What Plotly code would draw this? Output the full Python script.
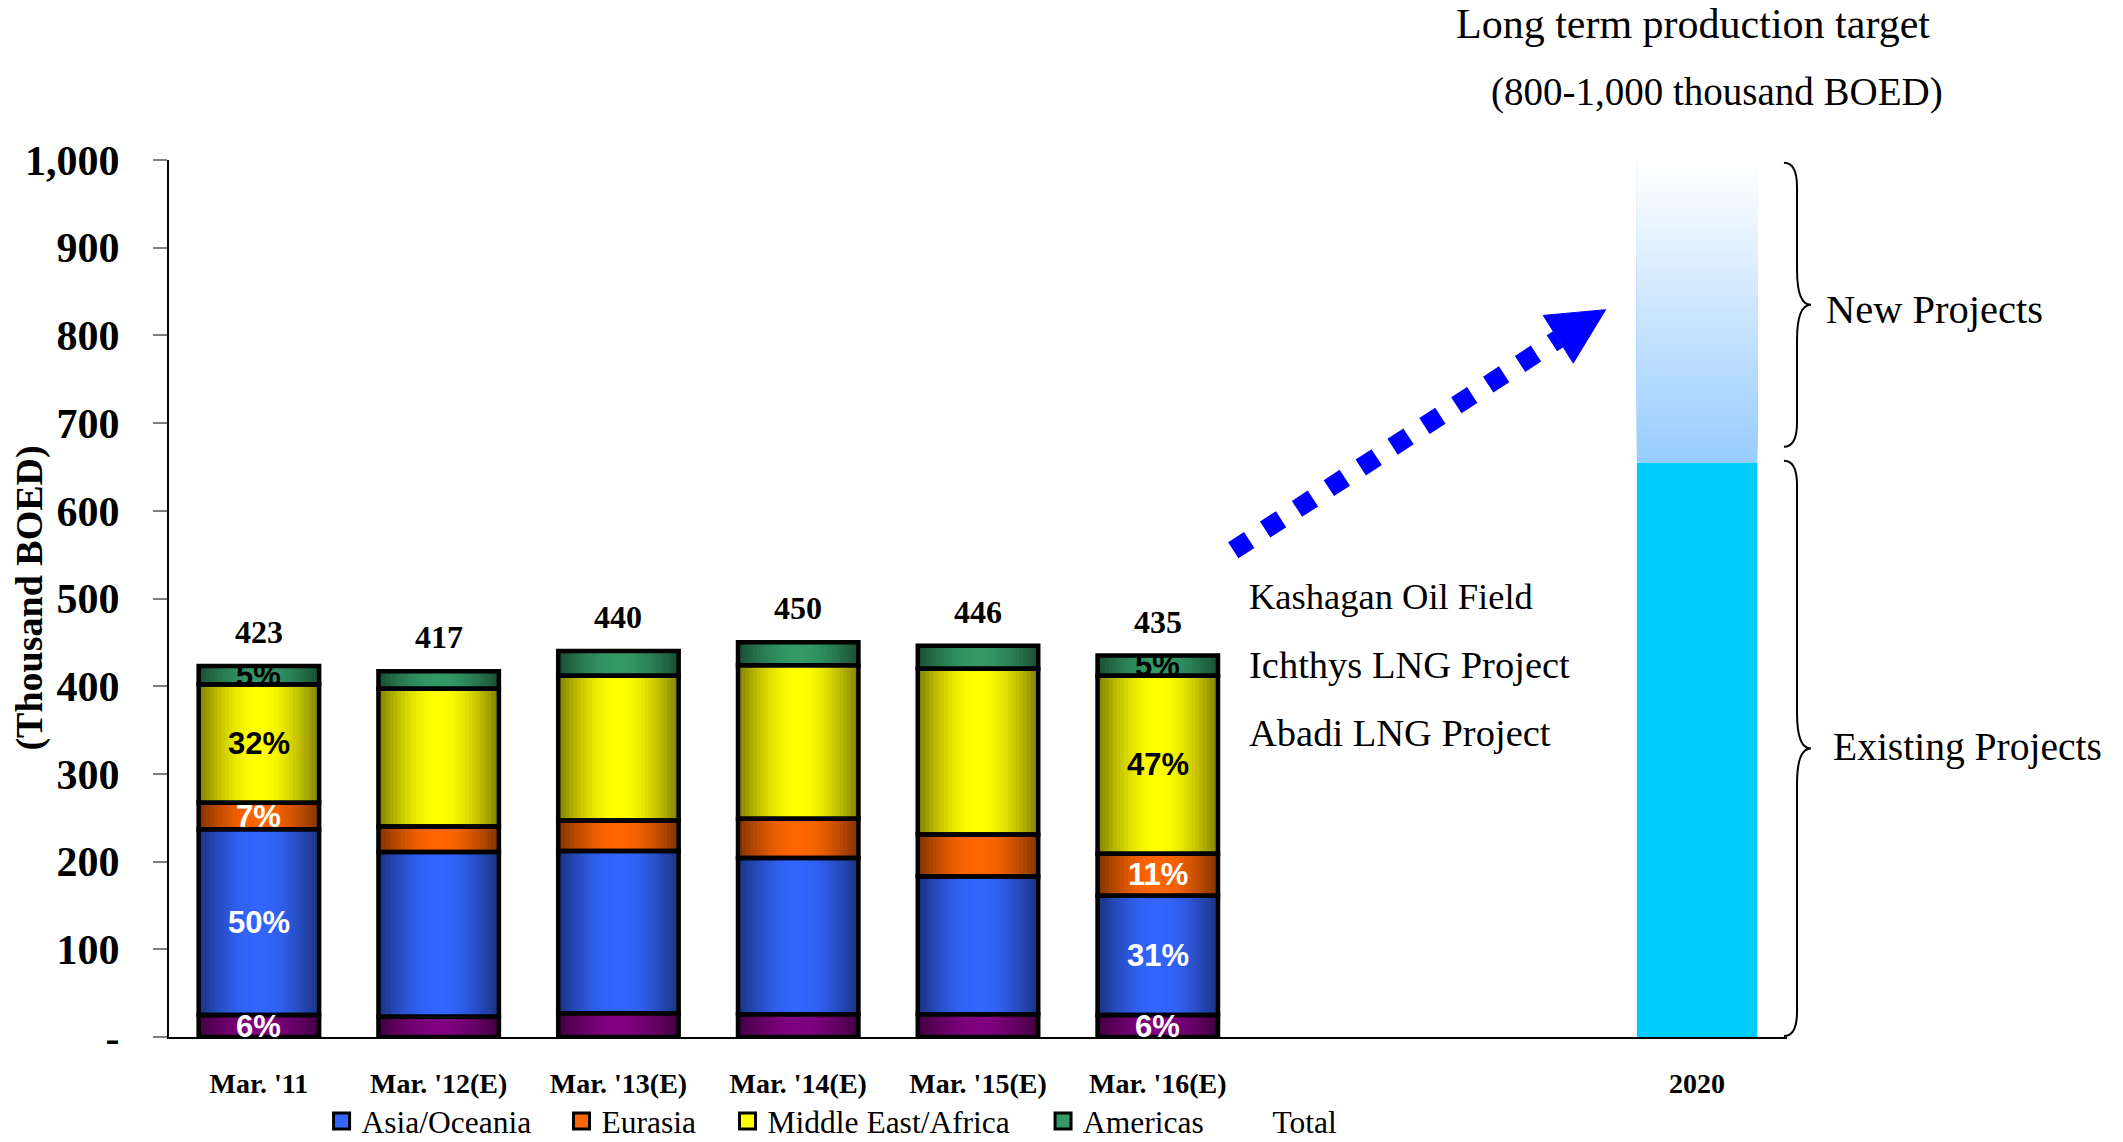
import math
import plotly.graph_objects as go

# ---- data (thousand BOED) ----
periods = ["Mar. '11", "Mar. '12(E)", "Mar. '13(E)", "Mar. '14(E)", "Mar. '15(E)", "Mar. '16(E)"]
spacer_labels = [" ", "  "]
target_label = "2020"

japan = [25, 23, 27, 26, 26, 25]
asia_oceania = [212, 188, 185, 178, 157, 136]
eurasia = [30, 29, 35, 45, 48, 48]
middle_east_africa = [135, 157, 165, 175, 189, 203]
americas = [21, 20, 28, 26, 26, 23]

share_label_periods = ["Mar. '11", "Mar. '16(E)"]

existing_2020 = 655
target_2020_high = 1000

y_tick_values = [0, 100, 200, 300, 400, 500, 600, 700, 800, 900, 1000]
y_tick_text = ["-", "100", "200", "300", "400", "500", "600", "700", "800", "900", "1,000"]

# ---- styling ----
SERIF = "Liberation Serif"
SANS = "Liberation Sans"
BAR_W = 0.67
N_LAYERS = 16
Y_MAX = 1000

series = [
    # name, values, face colour, share-label colour, legend slot (paper x) or None
    ("Japan", japan, "#800080", "white", None),
    ("Asia/Oceania", asia_oceania, "#3366FF", "white", 0.0943),
    ("Eurasia", eurasia, "#FF6600", "white", 0.2426),
    ("Middle East/Africa", middle_east_africa, "#FFFF00", "black", 0.3452),
    ("Americas", americas, "#339966", "black", 0.5402),
]
total_legend_x = 0.6573
legend_y = -0.0958


def hex_rgb(h):
    return int(h[1:3], 16), int(h[3:5], 16), int(h[5:7], 16)


def shade(h, factor):
    r, g, b = hex_rgb(h)
    return f"rgb({round(r * factor)},{round(g * factor)},{round(b * factor)})"


def mix(h1, h2, t):
    a, b = hex_rgb(h1), hex_rgb(h2)
    return "rgb({},{},{})".format(*[round(a[i] + (b[i] - a[i]) * t) for i in range(3)])


totals = [sum(v) for v in zip(*[s[1] for s in series])]

fig = go.Figure()

# cylinder-like shading: nested bars, dark at the edges, bright in the middle
bases = [0] * len(periods)
segment_bases = []
for name, vals, color, _, _ in series:
    segment_bases.append(list(bases))
    for k in range(N_LAYERS):
        t = (k + 0.5) / N_LAYERS
        f = 0.5 + 0.5 * math.sin(t * math.pi / 2)
        fig.add_trace(go.Bar(
            x=periods, y=vals, base=list(bases),
            width=BAR_W * (1 - k / N_LAYERS),
            marker=dict(color=shade(color, f), line=dict(width=0)),
            showlegend=False, hoverinfo="skip",
        ))
    bases = [b + v for b, v in zip(bases, vals)]

# black outlines of each segment
for (name, vals, color, _, _), base in zip(series, segment_bases):
    fig.add_trace(go.Bar(
        x=periods, y=vals, base=base, width=BAR_W,
        marker=dict(color="rgba(0,0,0,0)", line=dict(color="black", width=4.5)),
        name=name, showlegend=False,
        hovertemplate="%{x}<br>" + name + ": %{y}<extra></extra>",
    ))

# 2020 target bar: existing projects + fading new-projects band
fig.add_trace(go.Bar(
    x=[target_label], y=[existing_2020], base=[0], width=BAR_W,
    marker=dict(color="#00CCFF", line=dict(width=0)),
    showlegend=False, hoverinfo="skip",
))
N_FADE = 60
fade_step = (target_2020_high - existing_2020) / N_FADE
fade_bases = [existing_2020 + i * fade_step for i in range(N_FADE)]
fig.add_trace(go.Bar(
    x=[target_label] * N_FADE,
    y=[target_2020_high - b for b in fade_bases],
    base=fade_bases, width=BAR_W,
    marker=dict(color=[mix("#99CCFF", "#FFFFFF", i / (N_FADE - 1)) for i in range(N_FADE)],
                line=dict(width=0)),
    showlegend=False, hoverinfo="skip",
))

# legend entries, each in its own legend box so the spacing can be set
legend_font = dict(family=SERIF, size=31.5, color="black")
legend_boxes = {}
slot = 0
for name, vals, color, _, lx in series:
    if lx is None:
        continue
    slot += 1
    key = "legend" if slot == 1 else f"legend{slot}"
    fig.add_trace(go.Scatter(
        x=[None], y=[None], mode="markers", name=name, legend=key,
        marker=dict(symbol="square", size=16, color=color, line=dict(color="black", width=3)),
    ))
    legend_boxes[key] = dict(x=lx, y=legend_y, xanchor="left", yanchor="middle",
                             orientation="h", font=legend_font, bgcolor="rgba(0,0,0,0)")
slot += 1
key = f"legend{slot}"
fig.add_trace(go.Scatter(
    x=[None], y=[None], mode="markers", name="Total", legend=key,
    marker=dict(symbol="square", size=16, color="rgba(0,0,0,0)"),
))
legend_boxes[key] = dict(x=total_legend_x, y=legend_y, xanchor="left", yanchor="middle",
                         orientation="h", font=legend_font, bgcolor="rgba(0,0,0,0)")

annotations = []

# totals above the bars
for p, tot in zip(periods, totals):
    annotations.append(dict(
        x=p, y=tot, xref="x", yref="y", text=str(tot), showarrow=False,
        yanchor="middle", yshift=34,
        font=dict(family=SERIF, size=32, color="black", weight="bold"),
    ))

# regional shares for the first and last period
for (name, vals, color, txtcol, _), base in zip(series, segment_bases):
    for i, p in enumerate(periods):
        if p in share_label_periods:
            annotations.append(dict(
                x=p, y=base[i] + vals[i] / 2, xref="x", yref="y",
                text=f"{round(100 * vals[i] / totals[i])}%", showarrow=False,
                font=dict(family=SANS, size=31, color=txtcol, weight="bold"),
            ))


def note(text, x, y, size, xanchor="left", **kw):
    return dict(x=x, y=y, xref="paper", yref="paper", text=text, showarrow=False,
                xanchor=xanchor, yanchor="middle",
                font=dict(family=SERIF, size=size, color="black", **kw))


annotations += [
    note("Long term production target", 0.942, 1.155, 42, xanchor="center"),
    note("(800-1,000 thousand BOED)", 0.957, 1.078, 39, xanchor="center"),
    note("Kashagan Oil Field", 0.666, 0.502, 36.5),
    note("Ichthys LNG Project", 0.666, 0.424, 38.5),
    note("Abadi LNG Project", 0.666, 0.347, 38.5),
    note("New Projects", 1.023, 0.830, 40.5),
    note("Existing Projects", 1.027, 0.331, 39.5),
]
annotations.append(dict(
    x=-0.0865, y=0.5, xref="paper", yref="paper", text="(Thousand BOED)", textangle=-90,
    xanchor="center", yanchor="middle", showarrow=False,
    font=dict(family=SERIF, size=38, color="black", weight="bold"),
))


def brace(y_top, y_bot, xe=0.9981, xb=1.0062, xt=1.0148, r_end=0.028, r_mid=0.04):
    """Right-facing curly brace in paper coordinates, spanning data values y_top..y_bot."""
    yt, yb = y_top / Y_MAX, y_bot / Y_MAX
    ym = (yt + yb) / 2
    return (f"M {xe},{yt} Q {xb},{yt} {xb},{yt - r_end} L {xb},{ym + r_mid} "
            f"Q {xb},{ym} {xt},{ym} Q {xb},{ym} {xb},{ym - r_mid} "
            f"L {xb},{yb + r_end} Q {xb},{yb} {xe},{yb}")


shapes = [
    dict(type="path", xref="paper", yref="paper", path=brace(997, 673),
         line=dict(color="black", width=2)),
    dict(type="path", xref="paper", yref="paper", path=brace(657, 1),
         line=dict(color="black", width=2)),
    # dotted growth arrow
    dict(type="line", xref="x", yref="y", x0=5.42, y0=555, x1=7.227, y1=795.7,
         line=dict(color="#0000FF", width=19, dash="dot")),
    dict(type="path", xref="x", yref="y",
         path="M 7.491,829.3 L 7.144,822.8 L 7.311,768.4 Z",
         fillcolor="#0000FF", line=dict(color="#0000FF", width=1)),
]

fig.update_layout(
    width=2123, height=1142,
    margin=dict(l=169, r=336, t=160, b=105, autoexpand=False),
    paper_bgcolor="white", plot_bgcolor="white",
    barmode="overlay",
    showlegend=True,
    xaxis=dict(type="category", categoryorder="array",
               categoryarray=periods + spacer_labels + [target_label],
               range=[-0.5, 8.5], showgrid=False, zeroline=False,
               showline=True, linecolor="black", linewidth=2,
               ticks="", ticklabelstandoff=20,
               tickfont=dict(family=SERIF, size=28, color="black", weight="bold")),
    yaxis=dict(range=[0, Y_MAX], tickvals=y_tick_values, ticktext=y_tick_text,
               showgrid=False, zeroline=False,
               showline=True, linecolor="black", linewidth=2,
               ticks="outside", ticklen=14, tickcolor="#808080", tickwidth=2,
               ticklabelstandoff=25,
               tickfont=dict(family=SERIF, size=42, color="black", weight="bold")),
    annotations=annotations,
    shapes=shapes,
    font=dict(family=SERIF),
    **legend_boxes,
)

fig.write_html("out.html")
